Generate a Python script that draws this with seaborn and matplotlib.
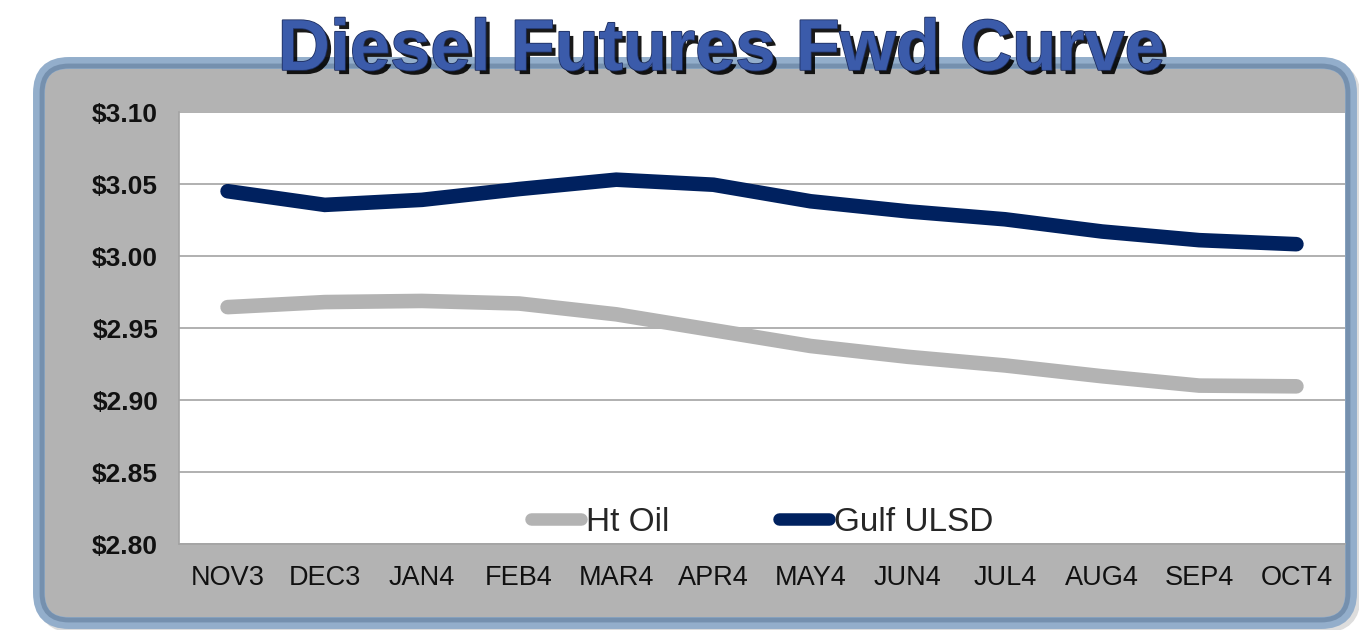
import pandas as pd
import matplotlib
matplotlib.use("Agg")
import matplotlib.pyplot as plt
import matplotlib.patheffects as pe
from matplotlib.patches import FancyBboxPatch
from matplotlib.lines import Line2D
from matplotlib.transforms import IdentityTransform
from matplotlib.ticker import FixedLocator, FuncFormatter
import seaborn as sns

# contract months and forward prices
months = ["NOV3", "DEC3", "JAN4", "FEB4", "MAR4", "APR4",
          "MAY4", "JUN4", "JUL4", "AUG4", "SEP4", "OCT4"]
ht_oil = [2.9645, 2.9680, 2.9688, 2.9670, 2.9595, 2.9485,
          2.9375, 2.9300, 2.9240, 2.9165, 2.9100, 2.9095]
gulf_ulsd = [3.0450, 3.0355, 3.0390, 3.0465, 3.0530, 3.0495,
             3.0380, 3.0310, 3.0255, 3.0170, 3.0110, 3.0082]
series_names = ["Ht Oil", "Gulf ULSD"]
series_colors = ["#B3B3B3", "#00215F"]
y_ticks = [2.80, 2.85, 2.90, 2.95, 3.00, 3.05, 3.10]

df = pd.concat([
    pd.DataFrame({"month": months, "price": ht_oil, "series": series_names[0]}),
    pd.DataFrame({"month": months, "price": gulf_ulsd, "series": series_names[1]}),
])

sns.set_style("white")
plt.rcParams['font.family'] = ['Liberation Sans', 'DejaVu Sans']

fig = plt.figure(figsize=(13.59, 6.30), dpi=100)
fig.patch.set_facecolor("white")

# rounded grey panel with the blue-grey border (pixel coords)
shadow = FancyBboxPatch((43, 3), 1312, 560, boxstyle="round,pad=0,rounding_size=30",
                        transform=IdentityTransform(), facecolor="#DDDDDD",
                        edgecolor="#DDDDDD", linewidth=8, zorder=0)
outer = FancyBboxPatch((39, 7), 1312, 560, boxstyle="round,pad=0,rounding_size=30",
                       transform=IdentityTransform(), facecolor="#B3B3B3",
                       edgecolor="#93AECB", linewidth=8.6, zorder=1)
inner = FancyBboxPatch((42, 10), 1306, 554, boxstyle="round,pad=0,rounding_size=27",
                       transform=IdentityTransform(), facecolor="none",
                       edgecolor="#7590AE", linewidth=3.5, zorder=2)
for p in (shadow, outer, inner):
    fig.add_artist(p)

ax = fig.add_axes([179 / 1359, 86 / 630, 1166 / 1359, 432 / 630])
ax.set_zorder(5)
ax.set_facecolor("white")

sns.lineplot(data=df, x="month", y="price", hue="series", hue_order=series_names,
             palette=series_colors, linewidth=10.5, sort=False, ax=ax, legend=False)
for line in ax.lines:
    line.set_solid_capstyle("round")
    line.set_solid_joinstyle("miter")

ax.set_xlim(-0.5, len(months) - 0.5)
ax.set_ylim(2.80, 3.10)
ax.set_yticks(y_ticks)
ax.yaxis.set_major_formatter(FuncFormatter(lambda v, _: f"${v:.2f}"))
ax.set_xticks(range(len(months)))
ax.set_xticklabels(months, fontsize=19.5, color="#111111")
ax.xaxis.set_minor_locator(FixedLocator([i - 0.5 for i in range(len(months) + 1)]))

ax.grid(axis="y", color="#A3A3A3", linewidth=1.2)
ax.set_axisbelow(True)
ax.tick_params(axis="x", which="major", length=0, pad=15)
ax.tick_params(axis="x", which="minor", length=5, width=1, color="#A3A3A3", direction="out")
ax.tick_params(axis="y", length=6, width=1.2, color="#A3A3A3", pad=9, labelsize=19)
for lbl in ax.get_yticklabels():
    lbl.set_fontweight("bold")
    lbl.set_color("#111111")

for side in ["top", "right"]:
    ax.spines[side].set_visible(False)
for side in ["left", "bottom"]:
    ax.spines[side].set_color("#A3A3A3")
    ax.spines[side].set_linewidth(1.2)
ax.set_xlabel("")
ax.set_ylabel("")

handles = [Line2D([], [], color=c, linewidth=9, solid_capstyle="round") for c in series_colors]
ax.legend(handles, series_names, loc="center", bbox_to_anchor=(0.50, 0.05), ncol=2,
          frameon=False, fontsize=24, handlelength=1.5, handletextpad=0.15,
          columnspacing=3.3)

fig.text(0.531, 0.889, "Diesel Futures Fwd Curve", ha="center", va="baseline",
         fontweight="bold", fontsize=52, color="#3B5BAA", zorder=10,
         path_effects=[pe.SimplePatchShadow(offset=(3, -3), shadow_rgbFace="black", alpha=0.9),
                       pe.Stroke(linewidth=1.2, foreground="#1E2F60"), pe.Normal()])

fig.savefig("out.png", dpi=100)
